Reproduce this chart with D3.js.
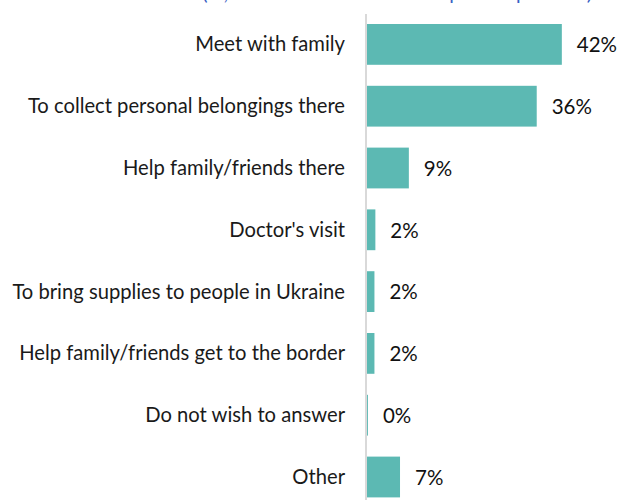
<!DOCTYPE html>
<html>
<head>
<meta charset="utf-8">
<script src="https://cdn.jsdelivr.net/npm/d3@7"></script>
<style>
  body { margin: 0; background: #fff; }
  svg { display: block; font-family: Lato, "Open Sans", sans-serif; }
</style>
</head>
<body>
<div id="chart"></div>
<script>
// chart values
const categories = [
  "Meet with family",
  "To collect personal belongings there",
  "Help family/friends there",
  "Doctor's visit",
  "To bring supplies to people in Ukraine",
  "Help family/friends get to the border",
  "Do not wish to answer",
  "Other"
];
const values = [41.9, 36.5, 9.0, 1.8, 1.6, 1.6, 0.2, 7.1];
const valueLabels = ["42%", "36%", "9%", "2%", "2%", "2%", "0%", "7%"];
const titleText = "(%, more than one of the responses possible)";

const width = 622, height = 500;

const svg = d3.select("#chart")
  .append("svg")
    .attr("width", width)
    .attr("height", height);

const x = d3.scaleLinear()
  .domain([0, 50])
  .range([367, 367 + 50 * 4.65]);

const y = d3.scaleBand()
  .domain(categories)
  .range([13.5, 13.5 + 8 * 61.8])
  .paddingInner(0.34)
  .paddingOuter(0.17);

// title, mostly cut off at the top (only descenders show)
svg.append("text")
  .attr("x", 592)
  .attr("y", 0)
  .attr("text-anchor", "end")
  .attr("fill", "#3a5fc4")
  .style("font-size", "20px")
  .text(titleText);

// bars
svg.selectAll("rect.bar")
  .data(values)
  .enter()
  .append("rect")
    .attr("class", "bar")
    .attr("x", x(0))
    .attr("y", (d, i) => y(categories[i]))
    .attr("width", d => x(d) - x(0))
    .attr("height", y.bandwidth())
    .attr("fill", "#5cb9b3");

// vertical axis line
svg.append("line")
  .attr("x1", x(0) - 1)
  .attr("x2", x(0) - 1)
  .attr("y1", 14)
  .attr("y2", height)
  .attr("stroke", "#d9d9d9")
  .attr("stroke-width", 2);

// category labels
svg.selectAll("text.cat")
  .data(categories)
  .enter()
  .append("text")
    .attr("class", "cat")
    .attr("x", 345)
    .attr("y", d => y(d) + y.bandwidth() / 2)
    .attr("dy", "0.35em")
    .attr("text-anchor", "end")
    .attr("fill", "#1a1a1a")
    .style("font-size", "20.2px")
    .text(d => d);

// value labels
svg.selectAll("text.val")
  .data(values)
  .enter()
  .append("text")
    .attr("class", "val")
    .attr("x", d => x(d) + 15)
    .attr("y", (d, i) => y(categories[i]) + y.bandwidth() / 2)
    .attr("dy", "0.38em")
    .attr("fill", "#111")
    .style("font-size", "20.5px")
    .text((d, i) => valueLabels[i]);
</script>
</body>
</html>
